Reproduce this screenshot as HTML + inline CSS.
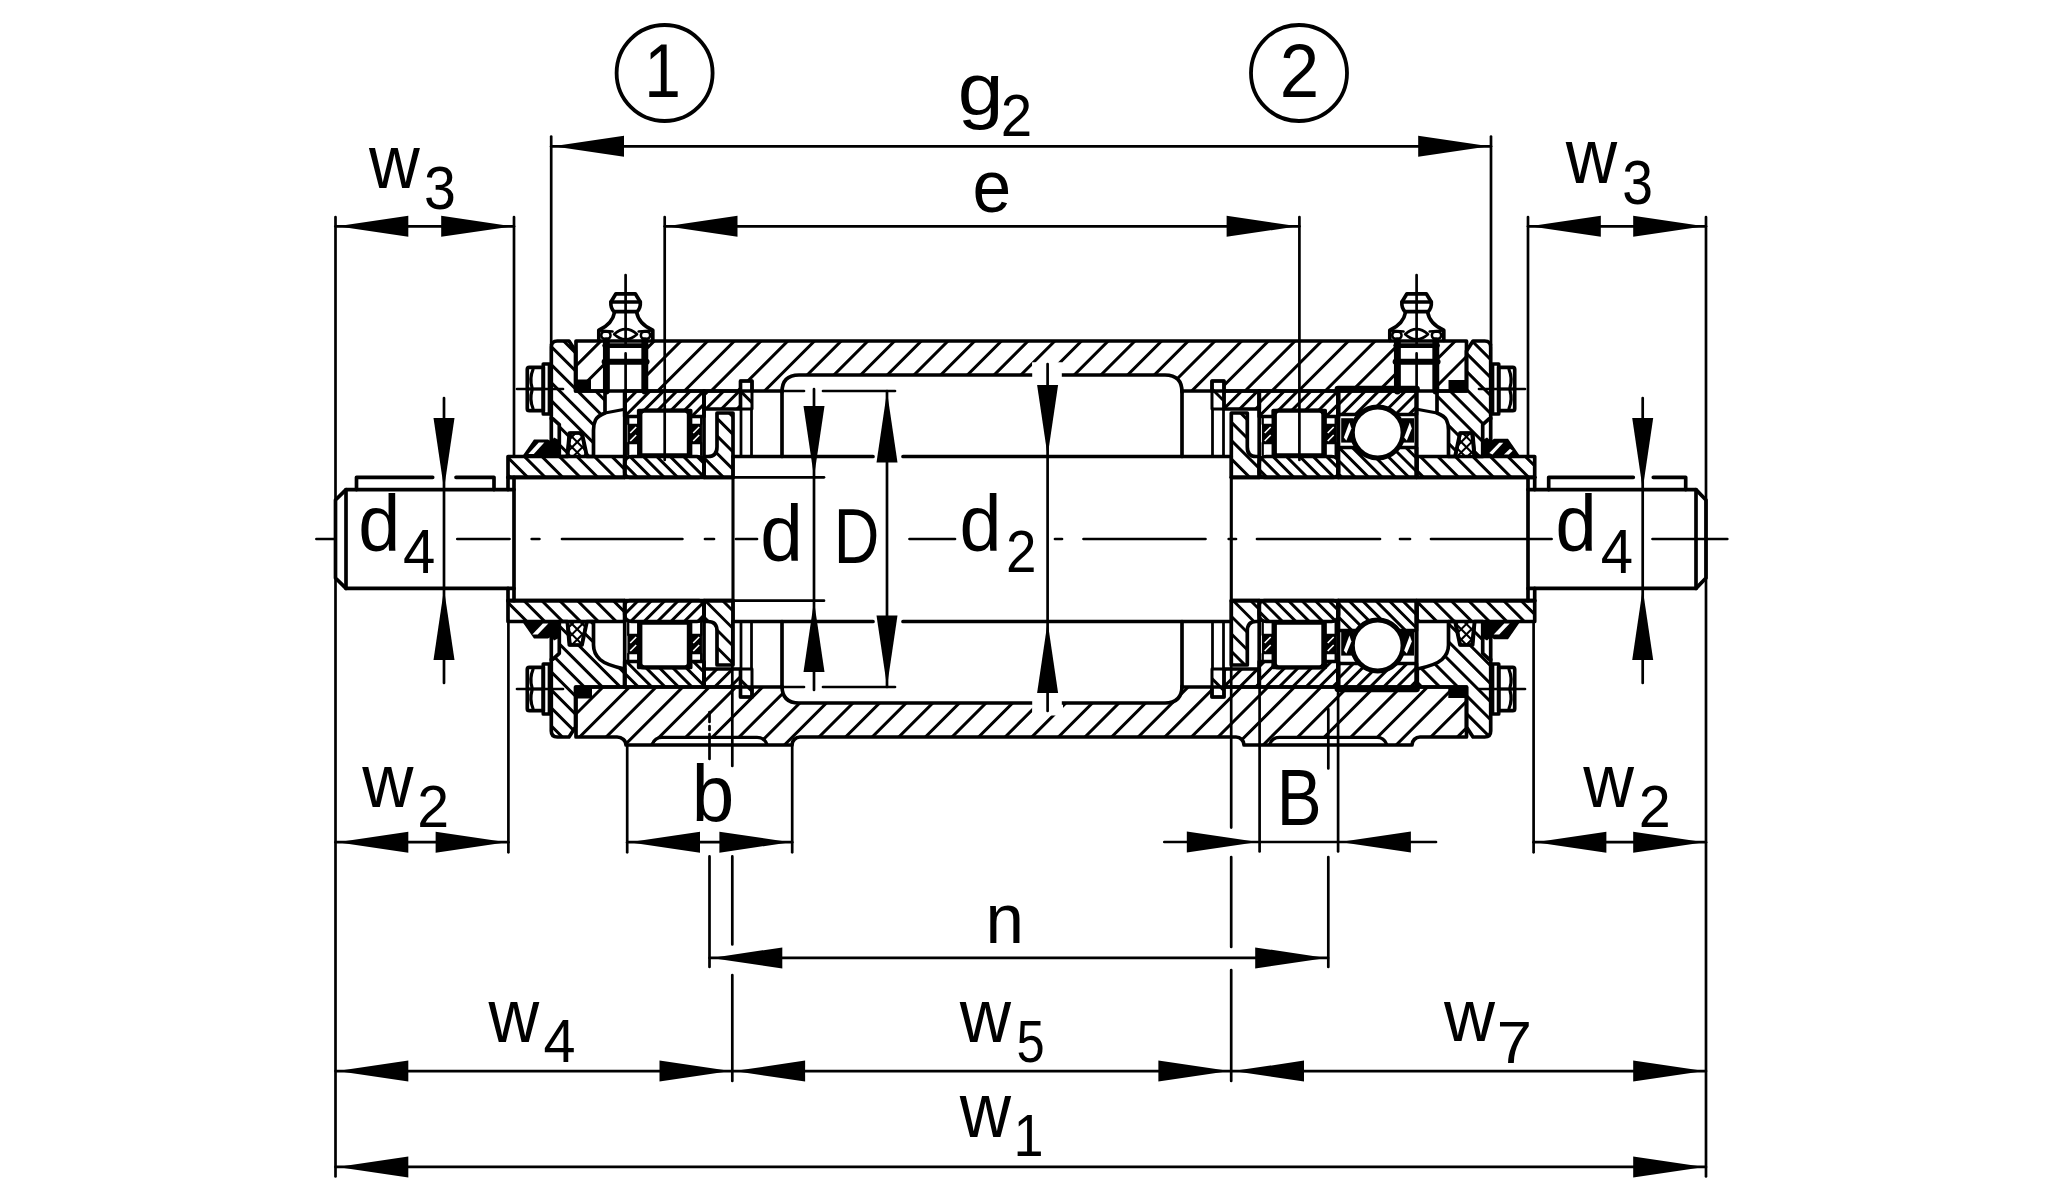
<!DOCTYPE html><html><head><meta charset="utf-8"><title>Bearing unit</title><style>html,body{margin:0;padding:0;background:#fff}svg{display:block}</style></head><body><svg width="2070" height="1200" viewBox="0 0 2070 1200">
<defs><clipPath id="c1"><path d="M576,341 H1466.5 V391 H1224 V381 H1212 V391 H1182 V392 Q1182,375 1165,375 H799 Q782,375 782,392 V391 H752 V381 H740.5 V391 H576 Z"/></clipPath><clipPath id="c2"><path d="M576,687 H740.5 V697 H752 V687 H782 V686 Q782,703 799,703 H1165 Q1182,703 1182,686 V687 H1212 V697 H1224 V687 H1466.5 V737 H1420 A8 8 0 0 0 1412,745 H1386 L1380,737 H1277 L1270,745 H1244 A8 8 0 0 0 1236,737 H800 A8 8 0 0 0 792,745 H767 L760,737 H659 L653,745 H626 A9 8 0 0 0 617,737 H576 Z"/></clipPath><clipPath id="c3"><path d="M551.3,347 Q551.3,341 557.3,341 H569 L575.5,351 V391 H605 V413 Q597.5,416 595.5,420 Q593.5,424 593.5,430 V456.5 H587 L582,433 H570 L567.5,456.5 H559.3 V424.7 L552.7,418.7 H551.3 Z"/></clipPath><clipPath id="c4"><path d="M551.3 731 Q551.3 737 557.3 737 H569 L575.5 727 V687 H624.7 V669 Q606 665 600 659.5 Q593.5 653.5 593.5 645 V621.5 H587 L582 645 H570 L567.5 621.5 H559.3 V653.3 L552.7 659.3 H551.3 Z"/></clipPath><clipPath id="c5"><path d="M1490.7 347 Q1490.7 341 1484.7 341 H1473 L1466.5 351 V391 H1437 V413 Q1444.5 416 1446.5 420 Q1448.5 424 1448.5 430 V456.5 H1455 L1460 433 H1472 L1474.5 456.5 H1482.7 V424.7 L1489.3 418.7 H1490.7 Z"/></clipPath><clipPath id="c6"><path d="M1490.7 731 Q1490.7 737 1484.7 737 H1473 L1466.5 727 V687 H1417.3 V669 Q1436 665 1442 659.5 Q1448.5 653.5 1448.5 645 V621.5 H1455 L1460 645 H1472 L1474.5 621.5 H1482.7 V653.3 L1489.3 659.3 H1490.7 Z"/></clipPath><clipPath id="c7"><path d="M569,433 H581.5 L586.5,456.5 H567 Z"/></clipPath><clipPath id="c8"><path d="M569,433 H581.5 L586.5,456.5 H567 Z"/></clipPath><clipPath id="c9"><path d="M569 645 H581.5 L586.5 621.5 H567 Z"/></clipPath><clipPath id="c10"><path d="M569 645 H581.5 L586.5 621.5 H567 Z"/></clipPath><clipPath id="c11"><path d="M1473 433 H1460.5 L1455.5 456.5 H1475 Z"/></clipPath><clipPath id="c12"><path d="M1473 433 H1460.5 L1455.5 456.5 H1475 Z"/></clipPath><clipPath id="c13"><path d="M1473 645 H1460.5 L1455.5 621.5 H1475 Z"/></clipPath><clipPath id="c14"><path d="M1473 645 H1460.5 L1455.5 621.5 H1475 Z"/></clipPath><clipPath id="c15"><path d="M508,456.5 H624.7 V477.3 H508 Z"/></clipPath><clipPath id="c16"><path d="M508 621.5 H624.7 V600.7 H508 Z"/></clipPath><clipPath id="c17"><path d="M1417,456.5 H1534.7 V477.3 H1417 Z"/></clipPath><clipPath id="c18"><path d="M1417 621.5 H1534.7 V600.7 H1417 Z"/></clipPath><clipPath id="c19"><path d="M704,477.3 H733 V413 H717 V447 Q717,456.5 708,456.5 H704 Z"/></clipPath><clipPath id="c20"><path d="M704 600.7 H733 V665 H717 V631 Q717 621.5 708 621.5 H704 Z"/></clipPath><clipPath id="c21"><path d="M1259.3,477.3 H1231.3 V413 H1247.3 V447 Q1247.3,456.5 1256,456.5 H1259.3 Z"/></clipPath><clipPath id="c22"><path d="M1259.3 600.7 H1231.3 V665 H1247.3 V631 Q1247.3 621.5 1256 621.5 H1259.3 Z"/></clipPath><clipPath id="c23"><path d="M704,391 H740.5 V409 H704 Z"/></clipPath><clipPath id="c24"><path d="M704 687 H740.5 V669 H704 Z"/></clipPath><clipPath id="c25"><path d="M1224,391 H1259.3 V409 H1224 Z"/></clipPath><clipPath id="c26"><path d="M1224 687 H1259.3 V669 H1224 Z"/></clipPath><clipPath id="c27"><path d="M740.5,381 H752 V409 H740.5 Z"/></clipPath><clipPath id="c28"><path d="M740.5 697 H752 V669 H740.5 Z"/></clipPath><clipPath id="c29"><path d="M1212,381 H1224 V409 H1212 Z"/></clipPath><clipPath id="c30"><path d="M1212 697 H1224 V669 H1212 Z"/></clipPath><clipPath id="c31"><path d="M624.7,391 H704 V416.5 H690.7 V410.5 H638.7 V416.5 H624.7 Z"/></clipPath><clipPath id="c32"><path d="M631.7,456.5 H697 Q704,456.5 704,463.5 V472.3 Q704,477.3 699,477.3 H629.7 Q624.7,477.3 624.7,472.3 V463.5 Q624.7,456.5 631.7,456.5 Z"/></clipPath><clipPath id="c33"><path d="M624.7 687 H704 V661.5 H690.7 V667.5 H638.7 V661.5 H624.7 Z"/></clipPath><clipPath id="c34"><path d="M631.7 621.5 H697 Q704 621.5 704 614.5 V605.7 Q704 600.7 699 600.7 H629.7 Q624.7 600.7 624.7 605.7 V614.5 Q624.7 621.5 631.7 621.5 Z"/></clipPath><clipPath id="c35"><path d="M1259.2,391 H1338.5 V416.5 H1325.2 V410.5 H1273.2 V416.5 H1259.2 Z"/></clipPath><clipPath id="c36"><path d="M1266.2,456.5 H1331.5 Q1338.5,456.5 1338.5,463.5 V472.3 Q1338.5,477.3 1333.5,477.3 H1264.2 Q1259.2,477.3 1259.2,472.3 V463.5 Q1259.2,456.5 1266.2,456.5 Z"/></clipPath><clipPath id="c37"><path d="M1259.2 687 H1338.5 V661.5 H1325.2 V667.5 H1273.2 V661.5 H1259.2 Z"/></clipPath><clipPath id="c38"><path d="M1266.2 621.5 H1331.5 Q1338.5 621.5 1338.5 614.5 V605.7 Q1338.5 600.7 1333.5 600.7 H1264.2 Q1259.2 600.7 1259.2 605.7 V614.5 Q1259.2 621.5 1266.2 621.5 Z"/></clipPath><clipPath id="c39"><path d="M1338,389.2 H1416.5 V414.5 H1395.6 A25.4 25.4 0 0 0 1359.8,414.5 H1338 Z"/></clipPath><clipPath id="c40"><path d="M1338,477.3 V447.5 H1357.2 A25.4 25.4 0 0 0 1398.2,447.5 H1416.5 V477.3 Z"/></clipPath><clipPath id="c41"><path d="M1338 688.8 H1416.5 V663.5 H1395.6 A25.4 25.4 0 0 1 1359.8 663.5 H1338 Z"/></clipPath><clipPath id="c42"><path d="M1338 600.7 V630.5 H1357.2 A25.4 25.4 0 0 1 1398.2 630.5 H1416.5 V600.7 Z"/></clipPath></defs>
<rect width="2070" height="1200" fill="#fff"/>
<path d="M577.2 338L520.2 395M603.9 338L546.9 395M630.6 338L573.6 395M657.3 338L600.3 395M684 338L627 395M710.7 338L653.7 395M737.4 338L680.4 395M764.1 338L707.1 395M790.8 338L733.8 395M817.5 338L760.5 395M844.2 338L787.2 395M870.9 338L813.9 395M897.6 338L840.6 395M924.3 338L867.3 395M951 338L894 395M977.7 338L920.7 395M1004.4 338L947.4 395M1031.1 338L974.1 395M1057.8 338L1000.8 395M1084.5 338L1027.5 395M1111.2 338L1054.2 395M1137.9 338L1080.9 395M1164.6 338L1107.6 395M1191.3 338L1134.3 395M1218 338L1161 395M1244.7 338L1187.7 395M1271.4 338L1214.4 395M1298.1 338L1241.1 395M1324.8 338L1267.8 395M1351.5 338L1294.5 395M1378.2 338L1321.2 395M1404.9 338L1347.9 395M1431.6 338L1374.6 395M1458.3 338L1401.3 395M1485 338L1428 395M1511.7 338L1454.7 395" clip-path="url(#c1)" stroke="#000" stroke-width="2.99" fill="none"/>
<path d="M580.4 683L515.4 748M607 683L542 748M633.6 683L568.6 748M660.2 683L595.2 748M686.8 683L621.8 748M713.4 683L648.4 748M740 683L675 748M766.6 683L701.6 748M793.2 683L728.2 748M819.8 683L754.8 748M846.4 683L781.4 748M873 683L808 748M899.6 683L834.6 748M926.2 683L861.2 748M952.8 683L887.8 748M979.4 683L914.4 748M1006 683L941 748M1032.6 683L967.6 748M1059.2 683L994.2 748M1085.8 683L1020.8 748M1112.4 683L1047.4 748M1139 683L1074 748M1165.6 683L1100.6 748M1192.2 683L1127.2 748M1218.8 683L1153.8 748M1245.4 683L1180.4 748M1272 683L1207 748M1298.6 683L1233.6 748M1325.2 683L1260.2 748M1351.8 683L1286.8 748M1378.4 683L1313.4 748M1405 683L1340 748M1431.6 683L1366.6 748M1458.2 683L1393.2 748M1484.8 683L1419.8 748M1511.4 683L1446.4 748" clip-path="url(#c2)" stroke="#000" stroke-width="2.99" fill="none"/>
<path d="M434.6 338L556.1 459.5M452.6 338L574.1 459.5M470.6 338L592.1 459.5M488.6 338L610.1 459.5M506.6 338L628.1 459.5M524.6 338L646.1 459.5M542.6 338L664.1 459.5M560.6 338L682.1 459.5M578.6 338L700.1 459.5M596.6 338L718.1 459.5" clip-path="url(#c3)" stroke="#000" stroke-width="2.99" fill="none"/>
<path d="M443.8 618.5L565.3 740M461.8 618.5L583.3 740M479.8 618.5L601.3 740M497.8 618.5L619.3 740M515.8 618.5L637.3 740M533.8 618.5L655.3 740M551.8 618.5L673.3 740M569.8 618.5L691.3 740M587.8 618.5L709.3 740M605.8 618.5L727.3 740M623.8 618.5L745.3 740" clip-path="url(#c4)" stroke="#000" stroke-width="2.99" fill="none"/>
<path d="M1325.1 338L1446.6 459.5M1343.1 338L1464.6 459.5M1361.1 338L1482.6 459.5M1379.1 338L1500.6 459.5M1397.1 338L1518.6 459.5M1415.1 338L1536.6 459.5M1433.1 338L1554.6 459.5M1451.1 338L1572.6 459.5M1469.1 338L1590.6 459.5M1487.1 338L1608.6 459.5" clip-path="url(#c5)" stroke="#000" stroke-width="2.99" fill="none"/>
<path d="M1299.3 618.5L1420.8 740M1317.3 618.5L1438.8 740M1335.3 618.5L1456.8 740M1353.3 618.5L1474.8 740M1371.3 618.5L1492.8 740M1389.3 618.5L1510.8 740M1407.3 618.5L1528.8 740M1425.3 618.5L1546.8 740M1443.3 618.5L1564.8 740M1461.3 618.5L1582.8 740M1479.3 618.5L1600.8 740" clip-path="url(#c6)" stroke="#000" stroke-width="2.99" fill="none"/>
<path d="M568.4 430L538.9 459.5M578.8 430L549.3 459.5M589.2 430L559.7 459.5M599.6 430L570.1 459.5M610 430L580.5 459.5" clip-path="url(#c7)" stroke="#000" stroke-width="2.07" fill="none"/>
<path d="M544.4 430L573.9 459.5M554.8 430L584.3 459.5M565.2 430L594.7 459.5M575.6 430L605.1 459.5M586 430L615.5 459.5" clip-path="url(#c8)" stroke="#000" stroke-width="2.07" fill="none"/>
<path d="M567.1 618.5L537.6 648M577.5 618.5L548 648M587.9 618.5L558.4 648M598.3 618.5L568.8 648M608.7 618.5L579.2 648" clip-path="url(#c9)" stroke="#000" stroke-width="2.07" fill="none"/>
<path d="M535.3 618.5L564.8 648M545.7 618.5L575.2 648M556.1 618.5L585.6 648M566.5 618.5L596 648M576.9 618.5L606.4 648M587.3 618.5L616.8 648" clip-path="url(#c10)" stroke="#000" stroke-width="2.07" fill="none"/>
<path d="M1462.8 430L1433.3 459.5M1473.2 430L1443.7 459.5M1483.6 430L1454.1 459.5M1494 430L1464.5 459.5M1504.4 430L1474.9 459.5" clip-path="url(#c11)" stroke="#000" stroke-width="2.07" fill="none"/>
<path d="M1428.4 430L1457.9 459.5M1438.8 430L1468.3 459.5M1449.2 430L1478.7 459.5M1459.6 430L1489.1 459.5M1470 430L1499.5 459.5" clip-path="url(#c12)" stroke="#000" stroke-width="2.07" fill="none"/>
<path d="M1461.5 618.5L1432 648M1471.9 618.5L1442.4 648M1482.3 618.5L1452.8 648M1492.7 618.5L1463.2 648M1503.1 618.5L1473.6 648" clip-path="url(#c13)" stroke="#000" stroke-width="2.07" fill="none"/>
<path d="M1429.7 618.5L1459.2 648M1440.1 618.5L1469.6 648M1450.5 618.5L1480 648M1460.9 618.5L1490.4 648M1471.3 618.5L1500.8 648" clip-path="url(#c14)" stroke="#000" stroke-width="2.07" fill="none"/>
<path d="M486.4 453.5L513.2 480.3M503.9 453.5L530.7 480.3M521.4 453.5L548.2 480.3M538.9 453.5L565.7 480.3M556.4 453.5L583.2 480.3M573.9 453.5L600.7 480.3M591.4 453.5L618.2 480.3M608.9 453.5L635.7 480.3M626.4 453.5L653.2 480.3" clip-path="url(#c15)" stroke="#000" stroke-width="2.99" fill="none"/>
<path d="M485.28 597.7L512.08 624.5M503.14 597.7L529.94 624.5M521 597.7L547.8 624.5M538.86 597.7L565.66 624.5M556.72 597.7L583.52 624.5M574.58 597.7L601.38 624.5M592.44 597.7L619.24 624.5M610.3 597.7L637.1 624.5" clip-path="url(#c16)" stroke="#000" stroke-width="2.99" fill="none"/>
<path d="M1399.8 453.5L1426.6 480.3M1417.3 453.5L1444.1 480.3M1434.8 453.5L1461.6 480.3M1452.3 453.5L1479.1 480.3M1469.8 453.5L1496.6 480.3M1487.3 453.5L1514.1 480.3M1504.8 453.5L1531.6 480.3M1522.3 453.5L1549.1 480.3" clip-path="url(#c17)" stroke="#000" stroke-width="2.99" fill="none"/>
<path d="M1395.6 597.7L1422.4 624.5M1413.1 597.7L1439.9 624.5M1430.6 597.7L1457.4 624.5M1448.1 597.7L1474.9 624.5M1465.6 597.7L1492.4 624.5M1483.1 597.7L1509.9 624.5M1500.6 597.7L1527.4 624.5M1518.1 597.7L1544.9 624.5M1535.6 597.7L1562.4 624.5" clip-path="url(#c18)" stroke="#000" stroke-width="2.99" fill="none"/>
<path d="M638.7 410L709 480.3M656.2 410L726.5 480.3M673.7 410L744 480.3M691.2 410L761.5 480.3M708.7 410L779 480.3M726.2 410L796.5 480.3" clip-path="url(#c19)" stroke="#000" stroke-width="2.99" fill="none"/>
<path d="M632.2 597.7L702.5 668M649.7 597.7L720 668M667.2 597.7L737.5 668M684.7 597.7L755 668M702.2 597.7L772.5 668M719.7 597.7L790 668" clip-path="url(#c20)" stroke="#000" stroke-width="2.99" fill="none"/>
<path d="M1164 410L1234.3 480.3M1182.4 410L1252.7 480.3M1200.8 410L1271.1 480.3M1219.2 410L1289.5 480.3M1237.6 410L1307.9 480.3M1256 410L1326.3 480.3" clip-path="url(#c21)" stroke="#000" stroke-width="2.99" fill="none"/>
<path d="M1160.2 597.7L1230.5 668M1177.7 597.7L1248 668M1195.2 597.7L1265.5 668M1212.7 597.7L1283 668M1230.2 597.7L1300.5 668M1247.7 597.7L1318 668" clip-path="url(#c22)" stroke="#000" stroke-width="2.99" fill="none"/>
<path d="M711.2 388L687.2 412M726.8 388L702.8 412M742.4 388L718.4 412M758 388L734 412" clip-path="url(#c23)" stroke="#000" stroke-width="2.99" fill="none"/>
<path d="M704.4 666L680.4 690M720 666L696 690M735.6 666L711.6 690M751.2 666L727.2 690M766.8 666L742.8 690" clip-path="url(#c24)" stroke="#000" stroke-width="2.99" fill="none"/>
<path d="M1228.7 388L1204.7 412M1244.7 388L1220.7 412M1260.7 388L1236.7 412M1276.7 388L1252.7 412" clip-path="url(#c25)" stroke="#000" stroke-width="2.99" fill="none"/>
<path d="M1228.7 666L1204.7 690M1244.7 666L1220.7 690M1260.7 666L1236.7 690M1276.7 666L1252.7 690" clip-path="url(#c26)" stroke="#000" stroke-width="2.99" fill="none"/>
<path d="M727.4 378L761.4 412" clip-path="url(#c27)" stroke="#000" stroke-width="2.99" fill="none"/>
<path d="M726.6 666L760.6 700" clip-path="url(#c28)" stroke="#000" stroke-width="2.99" fill="none"/>
<path d="M1201 378L1235 412" clip-path="url(#c29)" stroke="#000" stroke-width="2.99" fill="none"/>
<path d="M1199.3 666L1233.3 700" clip-path="url(#c30)" stroke="#000" stroke-width="2.99" fill="none"/>
<path d="M626.4 388L594.9 419.5M639.8 388L608.3 419.5M653.2 388L621.7 419.5M666.6 388L635.1 419.5M680 388L648.5 419.5M693.4 388L661.9 419.5M706.8 388L675.3 419.5M720.2 388L688.7 419.5M733.6 388L702.1 419.5" clip-path="url(#c31)" stroke="#000" stroke-width="2.99" fill="none"/>
<path d="M600.2 453.5L627 480.3M613.6 453.5L640.4 480.3M627 453.5L653.8 480.3M640.4 453.5L667.2 480.3M653.8 453.5L680.6 480.3M667.2 453.5L694 480.3M680.6 453.5L707.4 480.3M694 453.5L720.8 480.3" clip-path="url(#c32)" stroke="#000" stroke-width="2.99" fill="none"/>
<path d="M596.5 658.5L628 690M609.9 658.5L641.4 690M623.3 658.5L654.8 690M636.7 658.5L668.2 690M650.1 658.5L681.6 690M663.5 658.5L695 690M676.9 658.5L708.4 690M690.3 658.5L721.8 690M703.7 658.5L735.2 690" clip-path="url(#c33)" stroke="#000" stroke-width="2.99" fill="none"/>
<path d="M627.7 597.7L600.9 624.5M641.1 597.7L614.3 624.5M654.5 597.7L627.7 624.5M667.9 597.7L641.1 624.5M681.3 597.7L654.5 624.5M694.7 597.7L667.9 624.5M708.1 597.7L681.3 624.5M721.5 597.7L694.7 624.5" clip-path="url(#c34)" stroke="#000" stroke-width="2.99" fill="none"/>
<path d="M1260.6 388L1229.1 419.5M1274 388L1242.5 419.5M1287.4 388L1255.9 419.5M1300.8 388L1269.3 419.5M1314.2 388L1282.7 419.5M1327.6 388L1296.1 419.5M1341 388L1309.5 419.5M1354.4 388L1322.9 419.5M1367.8 388L1336.3 419.5" clip-path="url(#c35)" stroke="#000" stroke-width="2.99" fill="none"/>
<path d="M1229.8 453.5L1256.6 480.3M1243.2 453.5L1270 480.3M1256.6 453.5L1283.4 480.3M1270 453.5L1296.8 480.3M1283.4 453.5L1310.2 480.3M1296.8 453.5L1323.6 480.3M1310.2 453.5L1337 480.3M1323.6 453.5L1350.4 480.3M1337 453.5L1363.8 480.3" clip-path="url(#c36)" stroke="#000" stroke-width="2.99" fill="none"/>
<path d="M1267.4 658.5L1235.9 690M1280.8 658.5L1249.3 690M1294.2 658.5L1262.7 690M1307.6 658.5L1276.1 690M1321 658.5L1289.5 690M1334.4 658.5L1302.9 690M1347.8 658.5L1316.3 690M1361.2 658.5L1329.7 690" clip-path="url(#c37)" stroke="#000" stroke-width="2.99" fill="none"/>
<path d="M1231.9 597.7L1258.7 624.5M1245.3 597.7L1272.1 624.5M1258.7 597.7L1285.5 624.5M1272.1 597.7L1298.9 624.5M1285.5 597.7L1312.3 624.5M1298.9 597.7L1325.7 624.5M1312.3 597.7L1339.1 624.5M1325.7 597.7L1352.5 624.5M1339.1 597.7L1365.9 624.5" clip-path="url(#c38)" stroke="#000" stroke-width="2.99" fill="none"/>
<path d="M1343.4 386.2L1312.1 417.5M1356.8 386.2L1325.5 417.5M1370.2 386.2L1338.9 417.5M1383.6 386.2L1352.3 417.5M1397 386.2L1365.7 417.5M1410.4 386.2L1379.1 417.5M1423.8 386.2L1392.5 417.5M1437.2 386.2L1405.9 417.5M1450.6 386.2L1419.3 417.5" clip-path="url(#c39)" stroke="#000" stroke-width="2.99" fill="none"/>
<path d="M1309.1 444.5L1344.9 480.3M1322.5 444.5L1358.3 480.3M1335.9 444.5L1371.7 480.3M1349.3 444.5L1385.1 480.3M1362.7 444.5L1398.5 480.3M1376.1 444.5L1411.9 480.3M1389.5 444.5L1425.3 480.3M1402.9 444.5L1438.7 480.3M1416.3 444.5L1452.1 480.3" clip-path="url(#c40)" stroke="#000" stroke-width="2.99" fill="none"/>
<path d="M1343.1 660.5L1311.8 691.8M1356.5 660.5L1325.2 691.8M1369.9 660.5L1338.6 691.8M1383.3 660.5L1352 691.8M1396.7 660.5L1365.4 691.8M1410.1 660.5L1378.8 691.8M1423.5 660.5L1392.2 691.8M1436.9 660.5L1405.6 691.8M1450.3 660.5L1419 691.8" clip-path="url(#c41)" stroke="#000" stroke-width="2.99" fill="none"/>
<path d="M1305.8 597.7L1341.6 633.5M1319.2 597.7L1355 633.5M1332.6 597.7L1368.4 633.5M1346 597.7L1381.8 633.5M1359.4 597.7L1395.2 633.5M1372.8 597.7L1408.6 633.5M1386.2 597.7L1422 633.5M1399.6 597.7L1435.4 633.5M1413 597.7L1448.8 633.5" clip-path="url(#c42)" stroke="#000" stroke-width="2.99" fill="none"/>
<rect x="604.1" y="342" width="43" height="48" fill="#fff"/>
<rect x="1395.1" y="342" width="43" height="48" fill="#fff"/>
<rect x="1032.2" y="362.5" width="30" height="15" fill="#fff"/>
<rect x="1032.5" y="700.5" width="30.5" height="12" fill="#fff"/>
<path d="M576,341 H1466.5 V391 H1224 V381 H1212 V391 H1182 V392 Q1182,375 1165,375 H799 Q782,375 782,392 V391 H752 V381 H740.5 V391 H576 Z" stroke="#000" stroke-width="3.68" fill="none" stroke-linejoin="round"/>
<path d="M576,687 H740.5 V697 H752 V687 H782 V686 Q782,703 799,703 H1165 Q1182,703 1182,686 V687 H1212 V697 H1224 V687 H1466.5 V737 H1420 A8 8 0 0 0 1412,745 H1244 A8 8 0 0 0 1236,737 H800 A8 8 0 0 0 792,745 H626 A9 8 0 0 0 617,737 H576 Z" stroke="#000" stroke-width="3.68" fill="none" stroke-linejoin="round" stroke-linecap="round" />
<path d="M652.3,744 Q655,737.3 662,737.3 H757 Q764,737.3 766.8,744" stroke="#000" stroke-width="3.22" fill="none" stroke-linejoin="round" stroke-linecap="round" />
<path d="M1269.7,744 Q1272.5,737.3 1279.5,737.3 H1377 Q1384,737.3 1386.5,744" stroke="#000" stroke-width="3.22" fill="none" stroke-linejoin="round" stroke-linecap="round" />
<path d="M782,391 V456.5" stroke="#000" stroke-width="3.68" fill="none" stroke-linejoin="round" stroke-linecap="round" />
<path d="M782,687 V621.5" stroke="#000" stroke-width="3.68" fill="none" stroke-linejoin="round" stroke-linecap="round" />
<path d="M1182,391 V456.5" stroke="#000" stroke-width="3.68" fill="none" stroke-linejoin="round" stroke-linecap="round" />
<path d="M1182,687 V621.5" stroke="#000" stroke-width="3.68" fill="none" stroke-linejoin="round" stroke-linecap="round" />
<path d="M551.3,347 Q551.3,341 557.3,341 H569 L575.5,351 V391 H605 V413 Q597.5,416 595.5,420 Q593.5,424 593.5,430 V456.5 H587 L582,433 H570 L567.5,456.5 H559.3 V424.7 L552.7,418.7 H551.3 Z" stroke="#000" stroke-width="3.68" fill="none" stroke-linejoin="round"/>
<path d="M551.3 731 Q551.3 737 557.3 737 H569 L575.5 727 V687 H624.7 V669 Q606 665 600 659.5 Q593.5 653.5 593.5 645 V621.5 H587 L582 645 H570 L567.5 621.5 H559.3 V653.3 L552.7 659.3 H551.3 Z" stroke="#000" stroke-width="3.68" fill="none" stroke-linejoin="round"/>
<path d="M1490.7 347 Q1490.7 341 1484.7 341 H1473 L1466.5 351 V391 H1437 V413 Q1444.5 416 1446.5 420 Q1448.5 424 1448.5 430 V456.5 H1455 L1460 433 H1472 L1474.5 456.5 H1482.7 V424.7 L1489.3 418.7 H1490.7 Z" stroke="#000" stroke-width="3.68" fill="none" stroke-linejoin="round"/>
<path d="M1490.7 731 Q1490.7 737 1484.7 737 H1473 L1466.5 727 V687 H1417.3 V669 Q1436 665 1442 659.5 Q1448.5 653.5 1448.5 645 V621.5 H1455 L1460 645 H1472 L1474.5 621.5 H1482.7 V653.3 L1489.3 659.3 H1490.7 Z" stroke="#000" stroke-width="3.68" fill="none" stroke-linejoin="round"/>
<path d="M551.3,418 V440.5" stroke="#000" stroke-width="3.68" fill="none" stroke-linejoin="round" stroke-linecap="round" />
<path d="M551.3 660 V637.5" stroke="#000" stroke-width="3.68" fill="none" stroke-linejoin="round" stroke-linecap="round" />
<path d="M1490.7 418 V440.5" stroke="#000" stroke-width="3.68" fill="none" stroke-linejoin="round" stroke-linecap="round" />
<path d="M1490.7 660 V637.5" stroke="#000" stroke-width="3.68" fill="none" stroke-linejoin="round" stroke-linecap="round" />
<path d="M569,433 H581.5 L586.5,456.5 H567 Z" stroke="#000" stroke-width="2.99" fill="none" stroke-linejoin="round"/>
<path d="M569 645 H581.5 L586.5 621.5 H567 Z" stroke="#000" stroke-width="2.99" fill="none" stroke-linejoin="round"/>
<path d="M1473 433 H1460.5 L1455.5 456.5 H1475 Z" stroke="#000" stroke-width="2.99" fill="none" stroke-linejoin="round"/>
<path d="M1473 645 H1460.5 L1455.5 621.5 H1475 Z" stroke="#000" stroke-width="2.99" fill="none" stroke-linejoin="round"/>
<path d="M605,413 L624.7,409.3" stroke="#000" stroke-width="2.99" fill="none" stroke-linejoin="round" stroke-linecap="round" />
<path d="M1437,413 L1417,409.3" stroke="#000" stroke-width="2.99" fill="none" stroke-linejoin="round" stroke-linecap="round" />
<path d="M508,456.5 H624.7 V477.3 H508 Z" stroke="#000" stroke-width="3.68" fill="none" stroke-linejoin="round"/>
<path d="M508 621.5 H624.7 V600.7 H508 Z" stroke="#000" stroke-width="3.68" fill="none" stroke-linejoin="round"/>
<path d="M1417,456.5 H1534.7 V477.3 H1417 Z" stroke="#000" stroke-width="3.68" fill="none" stroke-linejoin="round"/>
<path d="M1417 621.5 H1534.7 V600.7 H1417 Z" stroke="#000" stroke-width="3.68" fill="none" stroke-linejoin="round"/>
<path d="M508,477.3 V489.6" stroke="#000" stroke-width="3.68" fill="none" stroke-linejoin="round" stroke-linecap="round" />
<path d="M508,588.4 V600.7" stroke="#000" stroke-width="3.68" fill="none" stroke-linejoin="round" stroke-linecap="round" />
<path d="M1534.7,477.3 V489.6" stroke="#000" stroke-width="3.68" fill="none" stroke-linejoin="round" stroke-linecap="round" />
<path d="M1534.7,588.4 V600.7" stroke="#000" stroke-width="3.68" fill="none" stroke-linejoin="round" stroke-linecap="round" />
<path d="M704,477.3 H733 V413 H717 V447 Q717,456.5 708,456.5 H704 Z" stroke="#000" stroke-width="3.68" fill="none" stroke-linejoin="round"/>
<path d="M704 600.7 H733 V665 H717 V631 Q717 621.5 708 621.5 H704 Z" stroke="#000" stroke-width="3.68" fill="none" stroke-linejoin="round"/>
<path d="M1259.3,477.3 H1231.3 V413 H1247.3 V447 Q1247.3,456.5 1256,456.5 H1259.3 Z" stroke="#000" stroke-width="3.68" fill="none" stroke-linejoin="round"/>
<path d="M1259.3 600.7 H1231.3 V665 H1247.3 V631 Q1247.3 621.5 1256 621.5 H1259.3 Z" stroke="#000" stroke-width="3.68" fill="none" stroke-linejoin="round"/>
<path d="M704,391 H740.5 V409 H704 Z" stroke="#000" stroke-width="3.68" fill="none" stroke-linejoin="round"/>
<path d="M704 687 H740.5 V669 H704 Z" stroke="#000" stroke-width="3.68" fill="none" stroke-linejoin="round"/>
<path d="M1224,391 H1259.3 V409 H1224 Z" stroke="#000" stroke-width="3.68" fill="none" stroke-linejoin="round"/>
<path d="M1224 687 H1259.3 V669 H1224 Z" stroke="#000" stroke-width="3.68" fill="none" stroke-linejoin="round"/>
<path d="M740.5,381 H752 V409 H740.5 Z" stroke="#000" stroke-width="2.99" fill="none" stroke-linejoin="round"/>
<path d="M740.5 697 H752 V669 H740.5 Z" stroke="#000" stroke-width="2.99" fill="none" stroke-linejoin="round"/>
<path d="M1212,381 H1224 V409 H1212 Z" stroke="#000" stroke-width="2.99" fill="none" stroke-linejoin="round"/>
<path d="M1212 697 H1224 V669 H1212 Z" stroke="#000" stroke-width="2.99" fill="none" stroke-linejoin="round"/>
<path d="M740.5,391 H752 M1212,391 H1224" stroke="#000" stroke-width="3.68" fill="none" stroke-linejoin="round" stroke-linecap="round" />
<path d="M740.5 687 H752 M1212 687 H1224" stroke="#000" stroke-width="3.68" fill="none" stroke-linejoin="round" stroke-linecap="round" />
<path d="M741,409 V456.5" stroke="#000" stroke-width="2.76" fill="none" stroke-linejoin="round" stroke-linecap="round" />
<path d="M741,669 V621.5" stroke="#000" stroke-width="2.76" fill="none" stroke-linejoin="round" stroke-linecap="round" />
<path d="M751.5,409 V456.5" stroke="#000" stroke-width="2.76" fill="none" stroke-linejoin="round" stroke-linecap="round" />
<path d="M751.5,669 V621.5" stroke="#000" stroke-width="2.76" fill="none" stroke-linejoin="round" stroke-linecap="round" />
<path d="M1212.5,409 V456.5" stroke="#000" stroke-width="2.76" fill="none" stroke-linejoin="round" stroke-linecap="round" />
<path d="M1212.5,669 V621.5" stroke="#000" stroke-width="2.76" fill="none" stroke-linejoin="round" stroke-linecap="round" />
<path d="M1223.5,409 V456.5" stroke="#000" stroke-width="2.76" fill="none" stroke-linejoin="round" stroke-linecap="round" />
<path d="M1223.5,669 V621.5" stroke="#000" stroke-width="2.76" fill="none" stroke-linejoin="round" stroke-linecap="round" />
<path d="M624.7,391 H704 V416.5 H690.7 V410.5 H638.7 V416.5 H624.7 Z" stroke="#000" stroke-width="3.68" fill="none" stroke-linejoin="round"/>
<path d="M631.7,456.5 H697 Q704,456.5 704,463.5 V472.3 Q704,477.3 699,477.3 H629.7 Q624.7,477.3 624.7,472.3 V463.5 Q624.7,456.5 631.7,456.5 Z" stroke="#000" stroke-width="3.68" fill="none" stroke-linejoin="round"/>
<path d="M624.7 687 H704 V661.5 H690.7 V667.5 H638.7 V661.5 H624.7 Z" stroke="#000" stroke-width="3.68" fill="none" stroke-linejoin="round"/>
<path d="M631.7 621.5 H697 Q704 621.5 704 614.5 V605.7 Q704 600.7 699 600.7 H629.7 Q624.7 600.7 624.7 605.7 V614.5 Q624.7 621.5 631.7 621.5 Z" stroke="#000" stroke-width="3.68" fill="none" stroke-linejoin="round"/>
<path d="M624.7,391 V477.3" stroke="#000" stroke-width="3.68" fill="none" stroke-linejoin="round" stroke-linecap="round" />
<path d="M704,391 V477.3" stroke="#000" stroke-width="3.68" fill="none" stroke-linejoin="round" stroke-linecap="round" />
<path d="M644.2,410.6 H685 Q689,410.6 689,414.6 V455.5 H640.2 V414.6 Q640.2,410.6 644.2,410.6 Z" fill="#fff" stroke="#000" stroke-width="4.4" stroke-linejoin="round"/>
<rect x="628.2" y="424.5" width="10" height="19" fill="#000" stroke="#000" stroke-width="1.5"/>
<path d="M630.2,433 L636.2,427 M630.2,441 L636.2,435" stroke="#fff" stroke-width="1.6" fill="none"/>
<path d="M628.2,416.5 V424 M638.2,416.5 V424 M628.2,443 V455 M638.2,443 V455" stroke="#000" stroke-width="2.30" fill="none" stroke-linejoin="round" stroke-linecap="round" />
<rect x="691.2" y="424.5" width="10" height="19" fill="#000" stroke="#000" stroke-width="1.5"/>
<path d="M693.2,433 L699.2,427 M693.2,441 L699.2,435" stroke="#fff" stroke-width="1.6" fill="none"/>
<path d="M691.2,416.5 V424 M701.2,416.5 V424 M691.2,443 V455 M701.2,443 V455" stroke="#000" stroke-width="2.30" fill="none" stroke-linejoin="round" stroke-linecap="round" />
<path d="M624.7 687 V600.7" stroke="#000" stroke-width="3.68" fill="none" stroke-linejoin="round" stroke-linecap="round" />
<path d="M704 687 V600.7" stroke="#000" stroke-width="3.68" fill="none" stroke-linejoin="round" stroke-linecap="round" />
<path d="M644.2 667.4 H685 Q689 667.4 689 663.4 V622.5 H640.2 V663.4 Q640.2 667.4 644.2 667.4 Z" fill="#fff" stroke="#000" stroke-width="4.4" stroke-linejoin="round"/>
<rect x="628.2" y="634.5" width="10" height="19" fill="#000" stroke="#000" stroke-width="1.5"/>
<path d="M630.2,643.0 L636.2,637.0 M630.2,651.0 L636.2,645.0" stroke="#fff" stroke-width="1.6" fill="none"/>
<path d="M628.2 661.5 V654 M638.2 661.5 V654 M628.2 635 V623 M638.2 635 V623" stroke="#000" stroke-width="2.30" fill="none" stroke-linejoin="round" stroke-linecap="round" />
<rect x="691.2" y="634.5" width="10" height="19" fill="#000" stroke="#000" stroke-width="1.5"/>
<path d="M693.2,643.0 L699.2,637.0 M693.2,651.0 L699.2,645.0" stroke="#fff" stroke-width="1.6" fill="none"/>
<path d="M691.2 661.5 V654 M701.2 661.5 V654 M691.2 635 V623 M701.2 635 V623" stroke="#000" stroke-width="2.30" fill="none" stroke-linejoin="round" stroke-linecap="round" />
<path d="M1259.2,391 H1338.5 V416.5 H1325.2 V410.5 H1273.2 V416.5 H1259.2 Z" stroke="#000" stroke-width="3.68" fill="none" stroke-linejoin="round"/>
<path d="M1266.2,456.5 H1331.5 Q1338.5,456.5 1338.5,463.5 V472.3 Q1338.5,477.3 1333.5,477.3 H1264.2 Q1259.2,477.3 1259.2,472.3 V463.5 Q1259.2,456.5 1266.2,456.5 Z" stroke="#000" stroke-width="3.68" fill="none" stroke-linejoin="round"/>
<path d="M1259.2 687 H1338.5 V661.5 H1325.2 V667.5 H1273.2 V661.5 H1259.2 Z" stroke="#000" stroke-width="3.68" fill="none" stroke-linejoin="round"/>
<path d="M1266.2 621.5 H1331.5 Q1338.5 621.5 1338.5 614.5 V605.7 Q1338.5 600.7 1333.5 600.7 H1264.2 Q1259.2 600.7 1259.2 605.7 V614.5 Q1259.2 621.5 1266.2 621.5 Z" stroke="#000" stroke-width="3.68" fill="none" stroke-linejoin="round"/>
<path d="M1259.2,391 V477.3" stroke="#000" stroke-width="3.68" fill="none" stroke-linejoin="round" stroke-linecap="round" />
<path d="M1338.5,391 V477.3" stroke="#000" stroke-width="3.68" fill="none" stroke-linejoin="round" stroke-linecap="round" />
<path d="M1278.7,410.6 H1319.5 Q1323.5,410.6 1323.5,414.6 V455.5 H1274.7 V414.6 Q1274.7,410.6 1278.7,410.6 Z" fill="#fff" stroke="#000" stroke-width="4.4" stroke-linejoin="round"/>
<rect x="1262.7" y="424.5" width="10" height="19" fill="#000" stroke="#000" stroke-width="1.5"/>
<path d="M1264.7,433 L1270.7,427 M1264.7,441 L1270.7,435" stroke="#fff" stroke-width="1.6" fill="none"/>
<path d="M1262.7,416.5 V424 M1272.7,416.5 V424 M1262.7,443 V455 M1272.7,443 V455" stroke="#000" stroke-width="2.30" fill="none" stroke-linejoin="round" stroke-linecap="round" />
<rect x="1325.7" y="424.5" width="10" height="19" fill="#000" stroke="#000" stroke-width="1.5"/>
<path d="M1327.7,433 L1333.7,427 M1327.7,441 L1333.7,435" stroke="#fff" stroke-width="1.6" fill="none"/>
<path d="M1325.7,416.5 V424 M1335.7,416.5 V424 M1325.7,443 V455 M1335.7,443 V455" stroke="#000" stroke-width="2.30" fill="none" stroke-linejoin="round" stroke-linecap="round" />
<path d="M1259.2 687 V600.7" stroke="#000" stroke-width="3.68" fill="none" stroke-linejoin="round" stroke-linecap="round" />
<path d="M1338.5 687 V600.7" stroke="#000" stroke-width="3.68" fill="none" stroke-linejoin="round" stroke-linecap="round" />
<path d="M1278.7 667.4 H1319.5 Q1323.5 667.4 1323.5 663.4 V622.5 H1274.7 V663.4 Q1274.7 667.4 1278.7 667.4 Z" fill="#fff" stroke="#000" stroke-width="4.4" stroke-linejoin="round"/>
<rect x="1262.7" y="634.5" width="10" height="19" fill="#000" stroke="#000" stroke-width="1.5"/>
<path d="M1264.7,643.0 L1270.7,637.0 M1264.7,651.0 L1270.7,645.0" stroke="#fff" stroke-width="1.6" fill="none"/>
<path d="M1262.7 661.5 V654 M1272.7 661.5 V654 M1262.7 635 V623 M1272.7 635 V623" stroke="#000" stroke-width="2.30" fill="none" stroke-linejoin="round" stroke-linecap="round" />
<rect x="1325.7" y="634.5" width="10" height="19" fill="#000" stroke="#000" stroke-width="1.5"/>
<path d="M1327.7,643.0 L1333.7,637.0 M1327.7,651.0 L1333.7,645.0" stroke="#fff" stroke-width="1.6" fill="none"/>
<path d="M1325.7 661.5 V654 M1335.7 661.5 V654 M1325.7 635 V623 M1335.7 635 V623" stroke="#000" stroke-width="2.30" fill="none" stroke-linejoin="round" stroke-linecap="round" />
<path d="M1338,389.2 H1416.5 V414.5 H1395.6 A25.4 25.4 0 0 0 1359.8,414.5 H1338 Z" stroke="#000" stroke-width="3.68" fill="none" stroke-linejoin="round"/>
<path d="M1338,477.3 V447.5 H1357.2 A25.4 25.4 0 0 0 1398.2,447.5 H1416.5 V477.3 Z" stroke="#000" stroke-width="3.68" fill="none" stroke-linejoin="round"/>
<path d="M1338 688.8 H1416.5 V663.5 H1395.6 A25.4 25.4 0 0 1 1359.8 663.5 H1338 Z" stroke="#000" stroke-width="3.68" fill="none" stroke-linejoin="round"/>
<path d="M1338 600.7 V630.5 H1357.2 A25.4 25.4 0 0 1 1398.2 630.5 H1416.5 V600.7 Z" stroke="#000" stroke-width="3.68" fill="none" stroke-linejoin="round"/>
<path d="M1338,389.2 H1416.5" stroke="#000" stroke-width="6.90" fill="none" stroke-linejoin="round" stroke-linecap="round" />
<path d="M1416.5,388 V477.3" stroke="#000" stroke-width="4.14" fill="none" stroke-linejoin="round" stroke-linecap="round" />
<path d="M1338,388 V477.3" stroke="#000" stroke-width="3.68" fill="none" stroke-linejoin="round" stroke-linecap="round" />
<path d="M1338 688.8 H1416.5" stroke="#000" stroke-width="6.90" fill="none" stroke-linejoin="round" stroke-linecap="round" />
<path d="M1416.5 690 V600.7" stroke="#000" stroke-width="4.14" fill="none" stroke-linejoin="round" stroke-linecap="round" />
<path d="M1338 690 V600.7" stroke="#000" stroke-width="3.68" fill="none" stroke-linejoin="round" stroke-linecap="round" />
<circle cx="1377.7" cy="432.5" r="25.4" fill="#fff" stroke="#000" stroke-width="5"/>
<rect x="1341.2" y="418.2" width="12.4" height="24.4" fill="#000"/>
<path d="M1343.8,437.5 L1349.4,422.5 L1351.4,428.5 L1346.4,440.5 Z" fill="#fff"/>
<rect x="1401.6" y="418.2" width="12.4" height="24.4" fill="#000"/>
<path d="M1404.1999999999998,437.5 L1409.8,422.5 L1411.8,428.5 L1406.8,440.5 Z" fill="#fff"/>
<circle cx="1377.7" cy="645.5" r="25.4" fill="#fff" stroke="#000" stroke-width="5"/>
<rect x="1341.2" y="631.2" width="12.4" height="24.4" fill="#000"/>
<path d="M1343.8,650.5 L1349.4,635.5 L1351.4,641.5 L1346.4,653.5 Z" fill="#fff"/>
<rect x="1401.6" y="631.2" width="12.4" height="24.4" fill="#000"/>
<path d="M1404.1999999999998,650.5 L1409.8,635.5 L1411.8,641.5 L1406.8,653.5 Z" fill="#fff"/>
<path d="M514,489.6 H346 L335.5,500 V578 L346,588.4 H514" stroke="#000" stroke-width="3.68" fill="none" stroke-linejoin="round" stroke-linecap="round" />
<path d="M346,489.6 V588.4" stroke="#000" stroke-width="3.68" fill="none" stroke-linejoin="round" stroke-linecap="round" />
<path d="M514,477.3 V600.7" stroke="#000" stroke-width="3.68" fill="none" stroke-linejoin="round" stroke-linecap="round" />
<path d="M1528,489.6 H1696 L1706,500 V578 L1696,588.4 H1528" stroke="#000" stroke-width="3.68" fill="none" stroke-linejoin="round" stroke-linecap="round" />
<path d="M1696,489.6 V588.4" stroke="#000" stroke-width="3.68" fill="none" stroke-linejoin="round" stroke-linecap="round" />
<path d="M1528,477.3 V600.7" stroke="#000" stroke-width="3.68" fill="none" stroke-linejoin="round" stroke-linecap="round" />
<path d="M733,456.5 V621.5" stroke="#000" stroke-width="3.10" fill="none" stroke-linejoin="round" stroke-linecap="round" />
<path d="M1231.3,456.5 V621.5" stroke="#000" stroke-width="3.10" fill="none" stroke-linejoin="round" stroke-linecap="round" />
<path d="M733,456.5 H873 M903,456.5 H1231.3" stroke="#000" stroke-width="3.68" fill="none" stroke-linejoin="round" stroke-linecap="round" />
<path d="M733,621.5 H873 M903,621.5 H1231.3" stroke="#000" stroke-width="3.68" fill="none" stroke-linejoin="round" stroke-linecap="round" />
<path d="M508,477.3 H733" stroke="#000" stroke-width="3.68" fill="none" stroke-linejoin="round" stroke-linecap="round" />
<path d="M1231.3,477.3 H1534.7" stroke="#000" stroke-width="3.68" fill="none" stroke-linejoin="round" stroke-linecap="round" />
<path d="M508,600.7 H733" stroke="#000" stroke-width="3.68" fill="none" stroke-linejoin="round" stroke-linecap="round" />
<path d="M1231.3,600.7 H1534.7" stroke="#000" stroke-width="3.68" fill="none" stroke-linejoin="round" stroke-linecap="round" />
<path d="M356.5,489.6 V477.3 H432.7 M456,477.3 H494 V489.6" stroke="#000" stroke-width="3.68" fill="none" stroke-linejoin="round" stroke-linecap="round" />
<path d="M1548.7,489.6 V477.3 H1633.3 M1653.3,477.3 H1685.7 V489.6" stroke="#000" stroke-width="3.68" fill="none" stroke-linejoin="round" stroke-linecap="round" />
<path d="M529.3,367.3 H543.3 V410.7 H529.3 Q527.3,410.7 527.3,408.7 V369.3 Q527.3,367.3 529.3,367.3 Z" stroke="#000" stroke-width="3.68" fill="none" stroke-linejoin="round" stroke-linecap="round" />
<path d="M529.3 710.7 H543.3 V667.3 H529.3 Q527.3 667.3 527.3 669.3 V708.7 Q527.3 710.7 529.3 710.7 Z" stroke="#000" stroke-width="3.68" fill="none" stroke-linejoin="round" stroke-linecap="round" />
<path d="M1512.7 367.3 H1498.7 V410.7 H1512.7 Q1514.7 410.7 1514.7 408.7 V369.3 Q1514.7 367.3 1512.7 367.3 Z" stroke="#000" stroke-width="3.68" fill="none" stroke-linejoin="round" stroke-linecap="round" />
<path d="M1512.7 710.7 H1498.7 V667.3 H1512.7 Q1514.7 667.3 1514.7 669.3 V708.7 Q1514.7 710.7 1512.7 710.7 Z" stroke="#000" stroke-width="3.68" fill="none" stroke-linejoin="round" stroke-linecap="round" />
<path d="M543.3,364 H549.5 V414 H543.3 Z" stroke="#000" stroke-width="3.68" fill="none" stroke-linejoin="round" stroke-linecap="round" />
<path d="M543.3 714 H549.5 V664 H543.3 Z" stroke="#000" stroke-width="3.68" fill="none" stroke-linejoin="round" stroke-linecap="round" />
<path d="M1498.7 364 H1492.5 V414 H1498.7 Z" stroke="#000" stroke-width="3.68" fill="none" stroke-linejoin="round" stroke-linecap="round" />
<path d="M1498.7 714 H1492.5 V664 H1498.7 Z" stroke="#000" stroke-width="3.68" fill="none" stroke-linejoin="round" stroke-linecap="round" />
<path d="M533,369.5 Q529.3,378.5 532,387.5 M532,390.5 Q529.3,399.5 533,408.5" stroke="#000" stroke-width="3.22" fill="none" stroke-linejoin="round" stroke-linecap="round" />
<path d="M533 708.5 Q529.3 699.5 532 690.5 M532 687.5 Q529.3 678.5 533 669.5" stroke="#000" stroke-width="3.22" fill="none" stroke-linejoin="round" stroke-linecap="round" />
<path d="M1509 369.5 Q1512.7 378.5 1510 387.5 M1510 390.5 Q1512.7 399.5 1509 408.5" stroke="#000" stroke-width="3.22" fill="none" stroke-linejoin="round" stroke-linecap="round" />
<path d="M1509 708.5 Q1512.7 699.5 1510 690.5 M1510 687.5 Q1512.7 678.5 1509 669.5" stroke="#000" stroke-width="3.22" fill="none" stroke-linejoin="round" stroke-linecap="round" />
<path d="M527.3,389 H543.3" stroke="#000" stroke-width="2.76" fill="none" stroke-linejoin="round" stroke-linecap="round" />
<path d="M527.3 689 H543.3" stroke="#000" stroke-width="2.76" fill="none" stroke-linejoin="round" stroke-linecap="round" />
<path d="M1514.7 389 H1498.7" stroke="#000" stroke-width="2.76" fill="none" stroke-linejoin="round" stroke-linecap="round" />
<path d="M1514.7 689 H1498.7" stroke="#000" stroke-width="2.76" fill="none" stroke-linejoin="round" stroke-linecap="round" />
<path d="M517,389 H563" stroke="#000" stroke-width="2.70" fill="none" stroke-linejoin="round" stroke-linecap="round" />
<path d="M517 689 H563" stroke="#000" stroke-width="2.70" fill="none" stroke-linejoin="round" stroke-linecap="round" />
<path d="M1525 389 H1479" stroke="#000" stroke-width="2.70" fill="none" stroke-linejoin="round" stroke-linecap="round" />
<path d="M1525 689 H1479" stroke="#000" stroke-width="2.70" fill="none" stroke-linejoin="round" stroke-linecap="round" />
<path d="M577,379.5 H591 V390.5 H577 Z" fill="#000"/>
<path d="M576 698.5 H592 V686.5 H576 Z" fill="#000"/>
<path d="M1448.5,380 H1466.5 V391.3 H1448.5 Z" fill="#000"/>
<path d="M1448.3 698 H1467 V686.2 H1448.3 Z" fill="#000"/>
<path d="M522.5,456 L534,439.5 H548 L551.3,441.5 L554,437.5 L559,440 V456 Z" fill="#000"/>
<path d="M522.5 622 L534 638.5 H548 L551.3 636.5 L554 640.5 L559 638 V622 Z" fill="#000"/>
<path d="M1482.7,456 V440 L1487,437.5 L1491,441 L1494,438.7 H1508 L1520,456 Z" fill="#000"/>
<path d="M1482.7 622 V638 L1487 640.5 L1491 637 L1494 639.3 H1508 L1520 622 Z" fill="#000"/>
<path d="M528.3,454 L538.8,442.5 H544.3 L533.8,454 Z" fill="#fff"/>
<path d="M532.3,634.5 L542.8,623.5 H548.3 L537.8,634.5 Z" fill="#fff"/>
<path d="M1489.3,453 L1499.3,442.7 H1503.3 L1492.5,454.5 Z" fill="#fff"/>
<path d="M1504,454.5 L1510,448.7 L1512.7,450.7 L1508.7,454.5 Z" fill="#fff"/>
<path d="M1493.7,634.5 L1504.2,623.5 H1509.7 L1499.2,634.5 Z" fill="#fff"/>
<path d="M615.9,293.8 H635.3000000000001 L640.3000000000001,302 Q640.8000000000001,308 637.1,311.7 H614.1 Q610.4,308 610.9,302 Z" stroke="#000" stroke-width="3.68" fill="none" stroke-linejoin="round" stroke-linecap="round" />
<path d="M610.9,302 H640.3000000000001" stroke="#000" stroke-width="3.68" fill="none" stroke-linejoin="round" stroke-linecap="round" />
<path d="M614.6,312 Q612.6,324 598.8000000000001,330.2 V340.5" stroke="#000" stroke-width="3.68" fill="none" stroke-linejoin="round" stroke-linecap="round" />
<path d="M636.6,312 Q638.6,324 652.8000000000001,330.2 V340.5" stroke="#000" stroke-width="3.68" fill="none" stroke-linejoin="round" stroke-linecap="round" />
<path d="M598.8000000000001,330.4 L612.6,331.5 M652.8000000000001,330.4 L638.6,331.5" stroke="#000" stroke-width="2.53" fill="none" stroke-linejoin="round" stroke-linecap="round" />
<rect x="601.3000000000001" y="331.8" width="9.2" height="7" rx="3.2" fill="none" stroke="#000" stroke-width="2.5"/>
<rect x="640.9" y="331.8" width="9.2" height="7" rx="3.2" fill="none" stroke="#000" stroke-width="2.5"/>
<path d="M614.1,334.2 Q625.6,324 637.1,334.2 Q625.6,344.5 614.1,334.2 Z" stroke="#000" stroke-width="2.53" fill="none" stroke-linejoin="round" stroke-linecap="round" />
<path d="M606.4,341 V391 M644.8000000000001,341 V391" stroke="#000" stroke-width="6.90" fill="none" stroke-linejoin="round" stroke-linecap="round" />
<path d="M604.6,345.6 H646.6" stroke="#000" stroke-width="4.60" fill="none" stroke-linejoin="round" stroke-linecap="round" />
<path d="M604.6,361.8 H646.6" stroke="#000" stroke-width="5.98" fill="none" stroke-linejoin="round" stroke-linecap="round" />
<path d="M625.6,275 V344.8 M625.6,353.4 V460" stroke="#000" stroke-width="2.70" fill="none" stroke-linejoin="round" stroke-linecap="round" />
<path d="M1406.8999999999999,293.8 H1426.3 L1431.3,302 Q1431.8,308 1428.1,311.7 H1405.1 Q1401.3999999999999,308 1401.8999999999999,302 Z" stroke="#000" stroke-width="3.68" fill="none" stroke-linejoin="round" stroke-linecap="round" />
<path d="M1401.8999999999999,302 H1431.3" stroke="#000" stroke-width="3.68" fill="none" stroke-linejoin="round" stroke-linecap="round" />
<path d="M1405.6,312 Q1403.6,324 1389.8,330.2 V340.5" stroke="#000" stroke-width="3.68" fill="none" stroke-linejoin="round" stroke-linecap="round" />
<path d="M1427.6,312 Q1429.6,324 1443.8,330.2 V340.5" stroke="#000" stroke-width="3.68" fill="none" stroke-linejoin="round" stroke-linecap="round" />
<path d="M1389.8,330.4 L1403.6,331.5 M1443.8,330.4 L1429.6,331.5" stroke="#000" stroke-width="2.53" fill="none" stroke-linejoin="round" stroke-linecap="round" />
<rect x="1392.3" y="331.8" width="9.2" height="7" rx="3.2" fill="none" stroke="#000" stroke-width="2.5"/>
<rect x="1431.8999999999999" y="331.8" width="9.2" height="7" rx="3.2" fill="none" stroke="#000" stroke-width="2.5"/>
<path d="M1405.1,334.2 Q1416.6,324 1428.1,334.2 Q1416.6,344.5 1405.1,334.2 Z" stroke="#000" stroke-width="2.53" fill="none" stroke-linejoin="round" stroke-linecap="round" />
<path d="M1397.3999999999999,341 V391 M1435.8,341 V391" stroke="#000" stroke-width="6.90" fill="none" stroke-linejoin="round" stroke-linecap="round" />
<path d="M1395.6,345.6 H1437.6" stroke="#000" stroke-width="4.60" fill="none" stroke-linejoin="round" stroke-linecap="round" />
<path d="M1395.6,361.8 H1437.6" stroke="#000" stroke-width="5.98" fill="none" stroke-linejoin="round" stroke-linecap="round" />
<path d="M1416.6,275 V344.8 M1416.6,353.4 V460" stroke="#000" stroke-width="2.70" fill="none" stroke-linejoin="round" stroke-linecap="round" />
<path d="M316.4,539 H334M457.3,539 H509.5M531.7,539 H539.4M562,539 H682.4M705,539 H714M736,539 H757M909.5,539 H955M1055,539 H1062M1083.5,539 H1205.5M1228.7,539 H1236M1257,539 H1380M1400,539 H1410M1431,539 H1551.6M1652.5,539 H1727.3" stroke="#000" stroke-width="2.70" fill="none" stroke-linejoin="round" stroke-linecap="round" />
<rect x="1032.2" y="362.5" width="29.6" height="15.5" fill="#fff"/>
<rect x="1032.2" y="700" width="29.6" height="15.5" fill="#fff"/>
<path d="M551.2,146.3 H1491" stroke="#000" stroke-width="2.70" fill="none" stroke-linejoin="round" stroke-linecap="round" />
<path d="M553.0,146.3 L624.0,135.8 V156.8 Z" fill="#000"/>
<path d="M1489.2,146.3 L1418.2,135.8 V156.8 Z" fill="#000"/>
<path d="M664.7,226.3 H1299.4" stroke="#000" stroke-width="2.70" fill="none" stroke-linejoin="round" stroke-linecap="round" />
<path d="M666.5,226.3 L737.5,215.8 V236.8 Z" fill="#000"/>
<path d="M1297.6000000000001,226.3 L1226.6000000000001,215.8 V236.8 Z" fill="#000"/>
<path d="M335.5,226.3 H514" stroke="#000" stroke-width="2.70" fill="none" stroke-linejoin="round" stroke-linecap="round" />
<path d="M337.3,226.3 L408.3,215.8 V236.8 Z" fill="#000"/>
<path d="M512.2,226.3 L441.20000000000005,215.8 V236.8 Z" fill="#000"/>
<path d="M1528,226.3 H1706" stroke="#000" stroke-width="2.70" fill="none" stroke-linejoin="round" stroke-linecap="round" />
<path d="M1529.8,226.3 L1600.8,215.8 V236.8 Z" fill="#000"/>
<path d="M1704.2,226.3 L1633.2,215.8 V236.8 Z" fill="#000"/>
<path d="M335.5,842.2 H508.4" stroke="#000" stroke-width="2.70" fill="none" stroke-linejoin="round" stroke-linecap="round" />
<path d="M337.3,842.2 L408.3,831.7 V852.7 Z" fill="#000"/>
<path d="M506.59999999999997,842.2 L435.59999999999997,831.7 V852.7 Z" fill="#000"/>
<path d="M1533.6,842.2 H1706" stroke="#000" stroke-width="2.70" fill="none" stroke-linejoin="round" stroke-linecap="round" />
<path d="M1535.3999999999999,842.2 L1606.3999999999999,831.7 V852.7 Z" fill="#000"/>
<path d="M1704.2,842.2 L1633.2,831.7 V852.7 Z" fill="#000"/>
<path d="M627.2,842.2 H792.2" stroke="#000" stroke-width="2.70" fill="none" stroke-linejoin="round" stroke-linecap="round" />
<path d="M629.0,842.2 L700.0,831.7 V852.7 Z" fill="#000"/>
<path d="M790.4000000000001,842.2 L719.4000000000001,831.7 V852.7 Z" fill="#000"/>
<path d="M709.5,957.9 H1328" stroke="#000" stroke-width="2.70" fill="none" stroke-linejoin="round" stroke-linecap="round" />
<path d="M711.3,957.9 L782.3,947.4 V968.4 Z" fill="#000"/>
<path d="M1326.2,957.9 L1255.2,947.4 V968.4 Z" fill="#000"/>
<path d="M335.5,1071.1 H732.3" stroke="#000" stroke-width="2.70" fill="none" stroke-linejoin="round" stroke-linecap="round" />
<path d="M337.3,1071.1 L408.3,1060.6 V1081.6 Z" fill="#000"/>
<path d="M730.5,1071.1 L659.5,1060.6 V1081.6 Z" fill="#000"/>
<path d="M732.3,1071.1 H1231.2" stroke="#000" stroke-width="2.70" fill="none" stroke-linejoin="round" stroke-linecap="round" />
<path d="M734.0999999999999,1071.1 L805.0999999999999,1060.6 V1081.6 Z" fill="#000"/>
<path d="M1229.4,1071.1 L1158.4,1060.6 V1081.6 Z" fill="#000"/>
<path d="M1231.2,1071.1 H1706" stroke="#000" stroke-width="2.70" fill="none" stroke-linejoin="round" stroke-linecap="round" />
<path d="M1233.0,1071.1 L1304.0,1060.6 V1081.6 Z" fill="#000"/>
<path d="M1704.2,1071.1 L1633.2,1060.6 V1081.6 Z" fill="#000"/>
<path d="M335.5,1166.9 H1706" stroke="#000" stroke-width="2.70" fill="none" stroke-linejoin="round" stroke-linecap="round" />
<path d="M337.3,1166.9 L408.3,1156.4 V1177.4 Z" fill="#000"/>
<path d="M1704.2,1166.9 L1633.2,1156.4 V1177.4 Z" fill="#000"/>
<path d="M1164.3,842 H1436" stroke="#000" stroke-width="2.70" fill="none" stroke-linejoin="round" stroke-linecap="round" />
<path d="M1257.8,842 L1186.8,831.5 V852.5 Z" fill="#000"/>
<path d="M1339.9,842 L1410.9,831.5 V852.5 Z" fill="#000"/>
<path d="M551.2,136.6 V345" stroke="#000" stroke-width="2.70" fill="none" stroke-linejoin="round" stroke-linecap="round" />
<path d="M1491,136.6 V345" stroke="#000" stroke-width="2.70" fill="none" stroke-linejoin="round" stroke-linecap="round" />
<path d="M664.7,217 V460" stroke="#000" stroke-width="2.70" fill="none" stroke-linejoin="round" stroke-linecap="round" />
<path d="M1299.4,217 V460" stroke="#000" stroke-width="2.70" fill="none" stroke-linejoin="round" stroke-linecap="round" />
<path d="M335.5,217 V1176.5" stroke="#000" stroke-width="2.70" fill="none" stroke-linejoin="round" stroke-linecap="round" />
<path d="M1706,217 V1176.5" stroke="#000" stroke-width="2.70" fill="none" stroke-linejoin="round" stroke-linecap="round" />
<path d="M514,217 V456" stroke="#000" stroke-width="2.70" fill="none" stroke-linejoin="round" stroke-linecap="round" />
<path d="M1528,217 V456" stroke="#000" stroke-width="2.70" fill="none" stroke-linejoin="round" stroke-linecap="round" />
<path d="M508.4,621.5 V852.3" stroke="#000" stroke-width="2.70" fill="none" stroke-linejoin="round" stroke-linecap="round" />
<path d="M1533.6,621.5 V852.3" stroke="#000" stroke-width="2.70" fill="none" stroke-linejoin="round" stroke-linecap="round" />
<path d="M627.2,745 V852.3" stroke="#000" stroke-width="2.70" fill="none" stroke-linejoin="round" stroke-linecap="round" />
<path d="M792.2,745 V852.3" stroke="#000" stroke-width="2.70" fill="none" stroke-linejoin="round" stroke-linecap="round" />
<path d="M1259.6,687 V851.5" stroke="#000" stroke-width="2.70" fill="none" stroke-linejoin="round" stroke-linecap="round" />
<path d="M1338.1,690 V851.5" stroke="#000" stroke-width="2.70" fill="none" stroke-linejoin="round" stroke-linecap="round" />
<path d="M709.5,712 V722 M709.5,726 V730 M709.5,734 V759 M709.5,856.4 V967" stroke="#000" stroke-width="2.70" fill="none" stroke-linejoin="round" stroke-linecap="round" />
<path d="M1328.3,709 V768.4 M1328.3,857 V967" stroke="#000" stroke-width="2.70" fill="none" stroke-linejoin="round" stroke-linecap="round" />
<path d="M732.3,621.5 V766 M732.3,856.4 V944.4 M732.3,975 V1081" stroke="#000" stroke-width="2.70" fill="none" stroke-linejoin="round" stroke-linecap="round" />
<path d="M1231.2,621.5 V827.6 M1231.2,857 V947 M1231.2,970 V1081" stroke="#000" stroke-width="2.70" fill="none" stroke-linejoin="round" stroke-linecap="round" />
<path d="M444,398 V489.6 M444,588.4 V683" stroke="#000" stroke-width="2.70" fill="none" stroke-linejoin="round" stroke-linecap="round" />
<path d="M444,489 L433.5,418 H454.5 Z" fill="#000"/>
<path d="M444,589 L433.5,660 H454.5 Z" fill="#000"/>
<path d="M444,489.6 V588.4" stroke="#000" stroke-width="2.70" fill="none" stroke-linejoin="round" stroke-linecap="round" />
<path d="M1642.7,398 V489.6 M1642.7,588.4 V683" stroke="#000" stroke-width="2.70" fill="none" stroke-linejoin="round" stroke-linecap="round" />
<path d="M1642.7,489 L1632.2,418 H1653.2 Z" fill="#000"/>
<path d="M1642.7,589 L1632.2,660 H1653.2 Z" fill="#000"/>
<path d="M1642.7,489.6 V588.4" stroke="#000" stroke-width="2.70" fill="none" stroke-linejoin="round" stroke-linecap="round" />
<path d="M814,389 V690" stroke="#000" stroke-width="2.70" fill="none" stroke-linejoin="round" stroke-linecap="round" />
<path d="M814,477 L803.5,406 H824.5 Z" fill="#000"/>
<path d="M814,601 L803.5,672 H824.5 Z" fill="#000"/>
<path d="M887,391 V687" stroke="#000" stroke-width="2.70" fill="none" stroke-linejoin="round" stroke-linecap="round" />
<path d="M887,391.5 L876.5,462.5 H897.5 Z" fill="#000"/>
<path d="M887,686.5 L876.5,615.5 H897.5 Z" fill="#000"/>
<path d="M1047.6,364 V711" stroke="#000" stroke-width="2.70" fill="none" stroke-linejoin="round" stroke-linecap="round" />
<path d="M1047.6,456 L1037.1,385 H1058.1 Z" fill="#000"/>
<path d="M1047.6,622 L1037.1,693 H1058.1 Z" fill="#000"/>
<path d="M784,391 H804 M823,391 H895" stroke="#000" stroke-width="2.70" fill="none" stroke-linejoin="round" stroke-linecap="round" />
<path d="M784,687 H804 M823,687 H895" stroke="#000" stroke-width="2.70" fill="none" stroke-linejoin="round" stroke-linecap="round" />
<path d="M733,477.3 H824" stroke="#000" stroke-width="2.70" fill="none" stroke-linejoin="round" stroke-linecap="round" />
<path d="M733,600.7 H824" stroke="#000" stroke-width="2.70" fill="none" stroke-linejoin="round" stroke-linecap="round" />
<circle cx="664.6" cy="73" r="48" fill="none" stroke="#000" stroke-width="3.8"/>
<circle cx="1299" cy="73" r="48" fill="none" stroke="#000" stroke-width="3.8"/>
<g font-family="'Liberation Sans', sans-serif" font-size="100" fill="#000">
<text transform="matrix(0.8222 0 0 0.7490 957.85 115.22)">g</text>
<text transform="matrix(0.5658 0 0 0.5989 1000.87 135.80)">2</text>
<text transform="matrix(0.6957 0 0 0.7445 972.38 211.76)">e</text>
<text transform="matrix(0.7034 0 0 0.7519 369.07 188.40)">w</text>
<text transform="matrix(0.5738 0 0 0.6172 424.12 209.08)">3</text>
<text transform="matrix(0.7117 0 0 0.7689 1565.87 183.10)">w</text>
<text transform="matrix(0.5527 0 0 0.6243 1622.20 204.48)">3</text>
<text transform="matrix(0.7556 0 0 0.7891 358.13 551.21)">d</text>
<text transform="matrix(0.5813 0 0 0.6265 403.06 572.70)">4</text>
<text transform="matrix(0.7667 0 0 0.7932 760.28 561.21)">d</text>
<text transform="matrix(0.6318 0 0 0.7863 833.72 562.80)">D</text>
<text transform="matrix(0.7556 0 0 0.8000 959.43 551.20)">d</text>
<text transform="matrix(0.5482 0 0 0.6017 1005.96 571.60)">2</text>
<text transform="matrix(0.7400 0 0 0.7891 1555.59 551.21)">d</text>
<text transform="matrix(0.5813 0 0 0.6265 1600.66 572.70)">4</text>
<text transform="matrix(0.7090 0 0 0.7595 362.37 807.10)">w</text>
<text transform="matrix(0.5724 0 0 0.5989 417.34 826.50)">2</text>
<text transform="matrix(0.7639 0 0 0.8000 691.63 820.70)">b</text>
<text transform="matrix(0.6729 0 0 0.7892 1276.68 825.40)">B</text>
<text transform="matrix(0.7021 0 0 0.7614 1583.27 806.90)">w</text>
<text transform="matrix(0.5746 0 0 0.5917 1638.63 826.70)">2</text>
<text transform="matrix(0.6918 0 0 0.6952 985.53 942.90)">n</text>
<text transform="matrix(0.7021 0 0 0.7652 488.57 1041.70)">w</text>
<text transform="matrix(0.5754 0 0 0.6134 543.48 1062.10)">4</text>
<text transform="matrix(0.7103 0 0 0.7652 959.67 1041.70)">w</text>
<text transform="matrix(0.5063 0 0 0.6003 1016.57 1062.10)">5</text>
<text transform="matrix(0.7103 0 0 0.7708 959.67 1137.00)">w</text>
<text transform="matrix(0.5406 0 0 0.5843 1013.59 1156.20)">1</text>
<text transform="matrix(0.7062 0 0 0.7424 1444.07 1041.20)">w</text>
<text transform="matrix(0.6330 0 0 0.5988 1496.77 1063.20)">7</text>
<text transform="matrix(0.6589 0 0 0.7529 644.29 97.40)">1</text>
<text transform="matrix(0.7083 0 0 0.7593 1279.86 97.00)">2</text>
</g>
</svg></body></html>
